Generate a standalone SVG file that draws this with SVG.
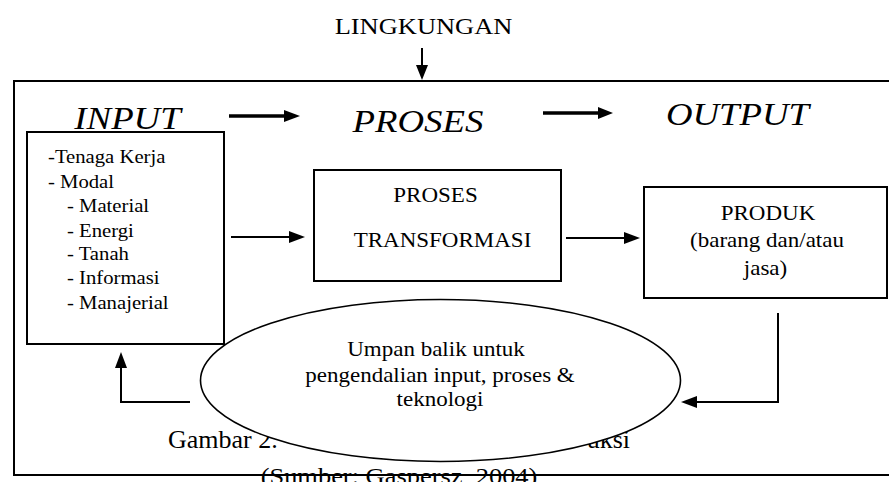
<svg xmlns="http://www.w3.org/2000/svg" width="889" height="482" viewBox="0 0 889 482">
  <style>
    .t { font-family: "Liberation Serif", "Times New Roman", serif; fill: #000; }
    .box { fill: #fff; stroke: #000; stroke-width: 2; }
    .frame { fill: none; stroke: #000; stroke-width: 2; }
    .arr { fill: none; stroke: #000; stroke-width: 2; }
    .arr3 { fill: none; stroke: #000; stroke-width: 3.5; }
    .head { fill: #000; stroke: none; }
  </style>
  <rect width="889" height="482" fill="#fff"/>

  <g id="lingkungan">
    <text class="t" font-size="23" text-anchor="middle" transform="translate(423.5,34) scale(1.15,1)">LINGKUNGAN</text>
  </g>

  <g id="headings">
    <text class="t" font-size="32" font-style="italic" text-anchor="middle" transform="translate(127.5,129) scale(1.15,1)">INPUT</text>
    <text class="t" font-size="32" font-style="italic" text-anchor="middle" transform="translate(418,132) scale(1.15,1)">PROSES</text>
    <text class="t" font-size="32" font-style="italic" text-anchor="middle" transform="translate(737.5,125) scale(1.15,1)">OUTPUT</text>
  </g>

  <g id="input">
    <rect class="box" x="27" y="132" width="197" height="212"/>
    <g class="t" font-size="18">
      <text transform="translate(48,163) scale(1.15,1)">-Tenaga Kerja</text>
      <text transform="translate(48,188) scale(1.15,1)">- Modal</text>
      <text transform="translate(67,212) scale(1.15,1)">- Material</text>
      <text transform="translate(67,237) scale(1.15,1)">- Energi</text>
      <text transform="translate(67,260) scale(1.15,1)">- Tanah</text>
      <text transform="translate(67,284) scale(1.15,1)">- Informasi</text>
      <text transform="translate(67,309) scale(1.15,1)">- Manajerial</text>
    </g>
  </g>

  <g id="proses-transformasi">
    <rect class="box" x="314" y="170" width="247" height="111"/>
    <g class="t" font-size="20" text-anchor="middle">
      <text transform="translate(435.5,202) scale(1.15,1)">PROSES</text>
      <text transform="translate(442.5,247) scale(1.15,1)">TRANSFORMASI</text>
    </g>
  </g>

  <g id="produk">
    <rect class="box" x="644" y="187" width="243" height="111"/>
    <g class="t" font-size="20" text-anchor="middle">
      <text transform="translate(768,220) scale(1.15,1)">PRODUK</text>
      <text transform="translate(767,247) scale(1.15,1)">(barang dan/atau</text>
      <text transform="translate(765.5,275) scale(1.15,1)">jasa)</text>
    </g>
  </g>

  <g id="connectors">
    <line class="arr" x1="422" y1="48" x2="422" y2="66"/>
    <polygon class="head" points="416,65 428,65 422,80"/>

    <line class="arr3" x1="229" y1="116" x2="286" y2="116"/>
    <polygon class="head" points="284,110 284,122 300,116"/>

    <line class="arr3" x1="543" y1="113" x2="600" y2="113"/>
    <polygon class="head" points="598,107 598,119 613,113"/>

    <line class="arr" x1="231" y1="237" x2="291" y2="237"/>
    <polygon class="head" points="289,231 289,243 305,237"/>

    <line class="arr" x1="566" y1="238" x2="626" y2="238"/>
    <polygon class="head" points="624,232 624,244 640,238"/>

    <polyline class="arr" points="778,313 778,402 695,402"/>
    <polygon class="head" points="697,396 697,408 681,402"/>

    <polyline class="arr" points="190,402 121,402 121,366"/>
    <polygon class="head" points="115,368 127,368 121,352"/>
  </g>

  <g id="caption">
    <text class="t" font-size="26" x="168" y="448">Gambar 2.</text>
    <text class="t" font-size="26" x="630" y="448" text-anchor="end">uksi</text>
    <text class="t" font-size="23" text-anchor="middle" transform="translate(399,484) scale(1.15,1)">(Sumber: Gaspersz, 2004)</text>
  </g>

  <g id="umpan-balik">
    <ellipse cx="440.5" cy="380.5" rx="240" ry="81" fill="#fff" stroke="#000" stroke-width="1.6"/>
    <g class="t" font-size="20" text-anchor="middle">
      <text transform="translate(436,356) scale(1.15,1)">Umpan balik untuk</text>
      <text transform="translate(440,382) scale(1.15,1)">pengendalian input, proses &amp;</text>
      <text transform="translate(440,406) scale(1.15,1)">teknologi</text>
    </g>
  </g>

  <g id="lingkungan-frame">
    <path class="frame" d="M889,81 H14 V475 H889"/>
  </g>
</svg>
